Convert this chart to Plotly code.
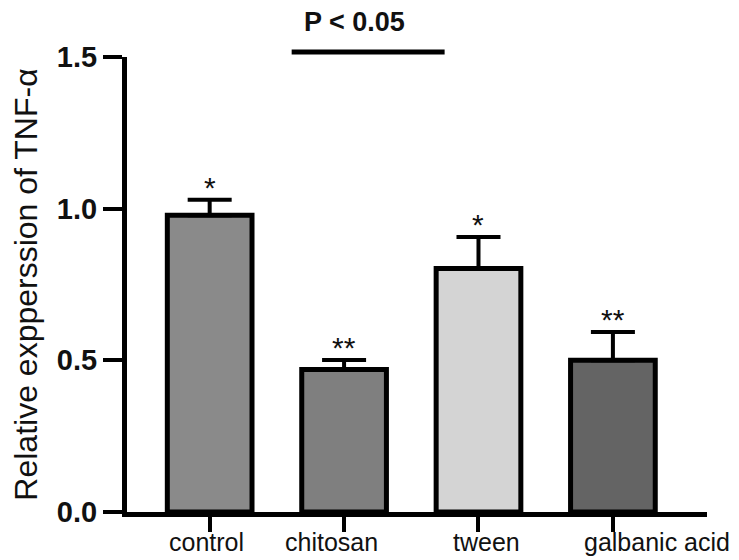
import plotly.graph_objects as go

categories = ["control", "chitosan", "tween", "galbanic acid"]
means = [0.978, 0.470, 0.803, 0.500]
errors = [0.051, 0.031, 0.104, 0.093]
stars = ["*", "**", "*", "**"]
bar_colors = ["#8a8a8a", "#7f7f7f", "#d4d4d4", "#646464"]
y_ticks = [0.0, 0.5, 1.0, 1.5]
y_ticktext = ["0.0", "0.5", "1.0", "1.5"]
sig_text = "P < 0.05"
y_title = "Relative expperssion of TNF-α"

# label horizontal offsets (style, px)
label_shift = [-3, -13, 8, 44]

FONT = "Liberation Sans, Arial, sans-serif"
xpos = list(range(len(categories)))

fig = go.Figure()
fig.add_trace(go.Bar(
    x=xpos, y=means,
    width=0.63,
    marker=dict(color=bar_colors, line=dict(color="#000000", width=5)),
    error_y=dict(type="data", array=errors, arrayminus=[0]*len(errors),
                 symmetric=False, color="#000000", thickness=4, width=22),
    showlegend=False,
))

annotations = []
for i, (m, e, s) in enumerate(zip(means, errors, stars)):
    annotations.append(dict(x=i, y=m + e, xref="x", yref="y", text=s,
                            showarrow=False, yanchor="bottom", yshift=-6,
                            font=dict(family=FONT, size=30, color="#111111")))
for i, c in enumerate(categories):
    annotations.append(dict(x=i, y=0, xref="x", yref="y", text=c,
                            showarrow=False, yanchor="top", yshift=-14,
                            xshift=label_shift[i],
                            font=dict(family=FONT, size=25, color="#111111")))
annotations.append(dict(x=1.08, y=1.077, xref="x", yref="paper", text="<b>" + sig_text + "</b>",
                        showarrow=False, yanchor="middle",
                        font=dict(family=FONT, size=27, color="#111111")))

fig.update_layout(
    width=731, height=552,
    margin=dict(l=116, r=32, t=49, b=48),
    paper_bgcolor="white", plot_bgcolor="white",
    annotations=annotations,
    shapes=[dict(type="line", xref="x", yref="paper", x0=0.61, x1=1.748,
                 y0=1.011, y1=1.011, line=dict(color="#000000", width=5))],
    bargap=0.3,
)
fig.update_xaxes(range=[-0.615, 3.70], showticklabels=False, tickvals=xpos,
                 ticks="outside", ticklen=15, tickwidth=4, tickcolor="#000000",
                 showline=True, linecolor="#000000", linewidth=5,
                 showgrid=False, zeroline=False)
fig.update_yaxes(range=[0, 1.5], tickvals=y_ticks, ticktext=y_ticktext,
                 ticks="outside", ticklen=19, tickwidth=4, tickcolor="#000000",
                 showline=True, linecolor="#000000", linewidth=5,
                 showgrid=False, zeroline=False,
                 tickfont=dict(family=FONT, size=29, color="#111111", weight="bold"),
                 title=dict(text=y_title, standoff=14,
                            font=dict(family=FONT, size=32, color="#111111")))

fig.write_html("out.html")
